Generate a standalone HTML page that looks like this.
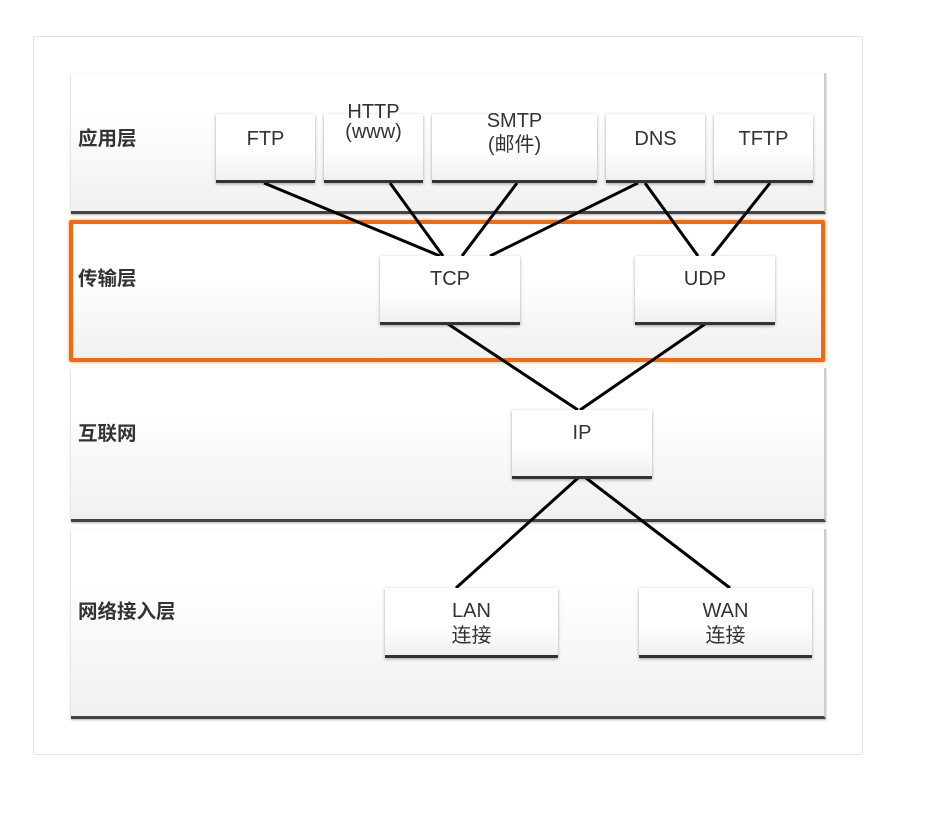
<!DOCTYPE html>
<html><head><meta charset="utf-8"><style>
body{margin:0;width:942px;height:830px;background:#fff;position:relative;overflow:hidden;font-family:"Liberation Sans","Noto Sans CJK SC",sans-serif;}
.card{position:absolute;left:33px;top:36px;width:828px;height:717px;border:1px solid #e2e2e2;border-radius:2px;}
.layer{position:absolute;left:71px;width:753px;background:linear-gradient(#fff 30%,#f0f0f0);border-right:2px solid #ccc;border-bottom:3px solid #444;box-shadow:0 1px 2px rgba(0,0,0,.3);}
.lbl{position:absolute;left:78px;font-weight:bold;font-size:19.5px;color:#333;line-height:22px;}
.box{position:absolute;background:linear-gradient(#fff 55%,#f0f0f0);border-bottom:3px solid #333;box-shadow:0 1px 3px rgba(0,0,0,.35);text-align:center;font-size:20px;color:#333;line-height:24px;box-sizing:border-box;}
svg{position:absolute;left:0;top:0;}
</style></head><body>
<div class="card"></div>
<div class="layer" style="top:73px;height:138px"></div>
<div class="layer" style="top:368px;height:151px"></div>
<div class="layer" style="top:529px;height:187px"></div>
<div style="position:absolute;left:69px;top:220px;width:748px;height:134px;border:4px solid #f26a10;border-radius:2px;background:linear-gradient(#fff 40%,#f0f0f0);box-shadow:0 0 3px #f7a060;"></div>
<div class="lbl" style="top:128px">应用层</div>
<div class="lbl" style="top:268px">传输层</div>
<div class="lbl" style="top:423px">互联网</div>
<div class="lbl" style="top:601px">网络接入层</div>
<svg width="942" height="830"><g stroke="#000" stroke-width="3">
<line x1="264" y1="183" x2="440" y2="256"/>
<line x1="390" y1="183" x2="443" y2="256"/>
<line x1="517" y1="183" x2="462" y2="256"/>
<line x1="638" y1="183" x2="490" y2="256"/>
<line x1="645" y1="183" x2="698" y2="256"/>
<line x1="770" y1="183" x2="712" y2="256"/>
<line x1="448" y1="324" x2="578" y2="410"/>
<line x1="705" y1="324" x2="580" y2="410"/>
<line x1="578" y1="478" x2="456" y2="588"/>
<line x1="586" y1="478" x2="730" y2="588"/>
</g></svg>
<div class="box" style="left:216px;top:114px;width:99px;height:69px;padding-top:13px">FTP</div>
<div class="box" style="left:324px;top:114px;width:99px;height:69px"></div>
<div style="position:absolute;left:324px;top:102px;width:99px;text-align:center;font-size:20px;color:#333;line-height:20px">HTTP<br>(www)</div>
<div class="box" style="left:432px;top:114px;width:165px;height:69px;padding-top:-4px"><div style="margin-top:-5px">SMTP<br>(邮件)</div></div>
<div class="box" style="left:606px;top:114px;width:99px;height:69px;padding-top:13px">DNS</div>
<div class="box" style="left:714px;top:114px;width:99px;height:69px;padding-top:13px">TFTP</div>
<div class="box" style="left:380px;top:256px;width:140px;height:69px;padding-top:11px">TCP</div>
<div class="box" style="left:635px;top:256px;width:140px;height:69px;padding-top:11px">UDP</div>
<div class="box" style="left:512px;top:410px;width:140px;height:69px;padding-top:11px">IP</div>
<div class="box" style="left:385px;top:588px;width:173px;height:70px;padding-top:11px;line-height:25px">LAN<br>连接</div>
<div class="box" style="left:639px;top:588px;width:173px;height:70px;padding-top:11px;line-height:25px">WAN<br>连接</div>
</body></html>
